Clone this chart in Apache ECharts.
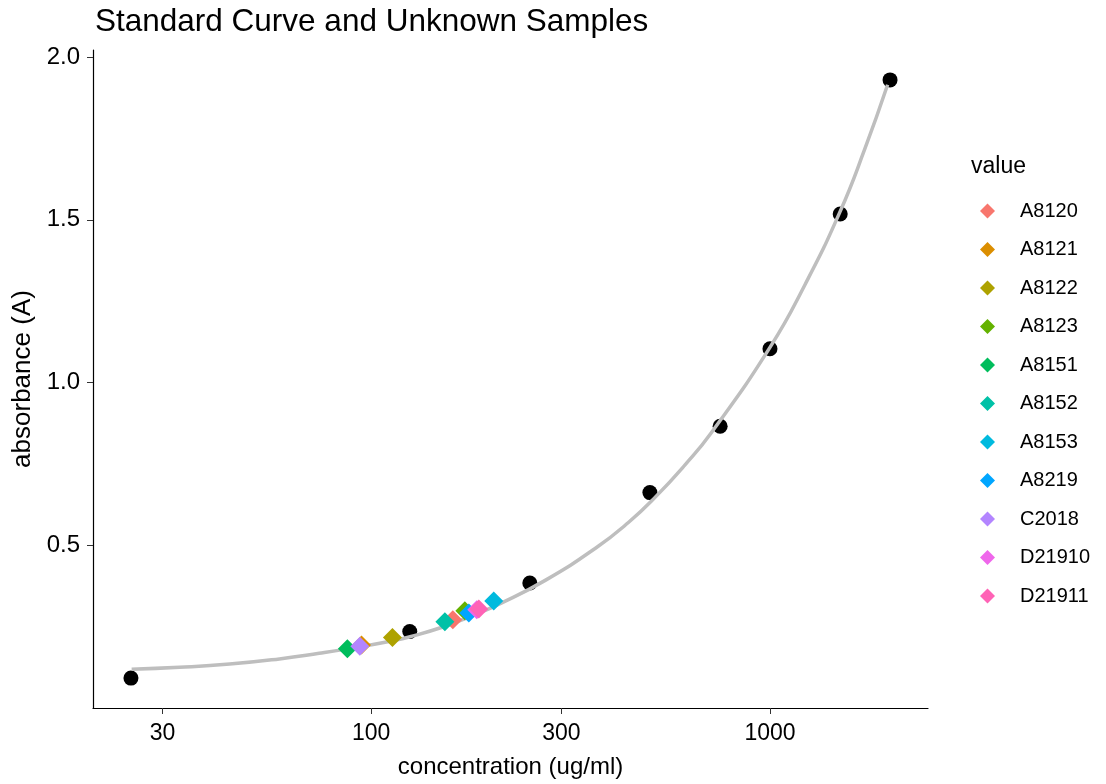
<!DOCTYPE html>
<html>
<head>
<meta charset="utf-8">
<script src="https://cdn.jsdelivr.net/npm/echarts@6/dist/echarts.min.js"></script>
<style>
html,body{margin:0;padding:0;background:#fff;}
#chart{width:1106px;height:784px;}
</style>
</head>
<body>
<div id="chart"></div>
<script>
// Standards (black points)
const stdConc = [25, 125, 250, 500, 750, 1000, 1500, 2000];
const stdAbs  = [0.092, 0.235, 0.384, 0.662, 0.866, 1.104, 1.518, 1.930];

// Fitted curve
const curveConc = [25.1, 33.1, 44.2, 58.9, 74.1, 86.6, 113.5, 125.2, 151.4, 175.8, 212.6, 273.9, 365.2, 441.6, 515.8, 613.2, 712, 1000, 1223, 1496, 1728, 1972];
const curveAbs  = [0.119, 0.125, 0.135, 0.151, 0.168, 0.181, 0.207, 0.219, 0.249, 0.279, 0.323, 0.393, 0.491, 0.570, 0.648, 0.748, 0.845, 1.108, 1.300, 1.523, 1.717, 1.915];

// Unknown samples
const sampleNames = ['A8120','A8121','A8122','A8123','A8151','A8152','A8153','A8219','C2018','D21910','D21911'];
const sampleConc  = [160.3, 94.6, 113.1, 171.8, 87.2, 153.1, 203, 175.8, 93.7, 184, 186.2];
const sampleAbs   = [0.271, 0.194, 0.217, 0.299, 0.182, 0.265, 0.329, 0.292, 0.190, 0.302, 0.304];
const sampleColors = ['#F8766D','#DB8E00','#AEA200','#64B200','#00BD5C','#00C1A7','#00BADE','#00A6FF','#B385FF','#EF67EB','#FF63B6'];

// Axis ticks
const xTicks = [30, 100, 300, 1000];
const yTicks = [0.5, 1.0, 1.5, 2.0];

const L = Math.log10;
const FONT = '"Liberation Sans", Arial, sans-serif';

// ggplot-like 5% expansion
const lx = stdConc.map(L);
const xr = Math.max(...lx) - Math.min(...lx);
const xMin = Math.min(...lx) - 0.05 * xr, xMax = Math.max(...lx) + 0.05 * xr;
const yr = Math.max(...stdAbs) - Math.min(...stdAbs);
const yMin = Math.min(...stdAbs) - 0.05 * yr, yMax = Math.max(...stdAbs) + 0.05 * yr;

const series = [];
series.push({
  name: 'standards', type: 'scatter', symbol: 'circle', symbolSize: 15,
  itemStyle: {color: '#000', opacity: 1}, z: 2,
  data: stdConc.map((c, i) => [L(c), stdAbs[i]])
});
series.push({
  name: 'curve', type: 'line', smooth: 0.5, showSymbol: false, z: 3,
  lineStyle: {color: '#bebebe', width: 3.5},
  data: curveConc.map((c, i) => [L(c), curveAbs[i]])
});
sampleNames.forEach((n, i) => {
  series.push({
    name: n, type: 'scatter', symbol: 'diamond', symbolSize: 19, z: 4,
    itemStyle: {color: sampleColors[i], opacity: 1},
    data: [[L(sampleConc[i]), sampleAbs[i]]]
  });
});

const chart = echarts.init(document.getElementById('chart'), null, {renderer: 'canvas'});
chart.setOption({
  animation: false,
  backgroundColor: '#fff',
  title: [
    {text: 'Standard Curve and Unknown Samples', left: 90, top: 1,
     textStyle: {fontFamily: FONT, fontSize: 31.5, fontWeight: 'normal', color: '#000'}},
    {text: 'value', left: 966, top: 150,
     textStyle: {fontFamily: FONT, fontSize: 23, fontWeight: 'normal', color: '#000'}}
  ],
  grid: {left: 93, right: 178, top: 50, bottom: 72, containLabel: false},
  legend: {
    data: sampleNames, orient: 'vertical', left: 975, top: 196,
    icon: 'diamond', itemWidth: 15, itemHeight: 15, itemGap: 18.5,
    itemStyle: {opacity: 1},
    textStyle: {fontFamily: FONT, fontSize: 20, color: '#000', padding: [0, 0, 0, 20]}
  },
  xAxis: {
    type: 'value', min: xMin, max: xMax,
    name: 'concentration (ug/ml)', nameLocation: 'middle', nameGap: 47,
    nameTextStyle: {fontFamily: FONT, fontSize: 24, color: '#000'},
    axisLine: {show: true, lineStyle: {color: '#000', width: 1.2}},
    axisTick: {show: true, length: 6, lineStyle: {color: '#333'}, customValues: xTicks.map(L)},
    axisLabel: {fontFamily: FONT, fontSize: 23, color: '#000', margin: 14,
      customValues: xTicks.map(L),
      formatter: v => String(Math.round(Math.pow(10, v)))},
    splitLine: {show: false}
  },
  yAxis: {
    type: 'value', min: yMin, max: yMax,
    name: 'absorbance (A)', nameLocation: 'middle', nameGap: 56, nameRotate: 90,
    nameTextStyle: {fontFamily: FONT, fontSize: 26, color: '#000'},
    axisLine: {show: true, lineStyle: {color: '#000', width: 1.2}},
    axisTick: {show: true, length: 6, lineStyle: {color: '#333'}, customValues: yTicks},
    axisLabel: {fontFamily: FONT, fontSize: 24, color: '#000', margin: 13,
      customValues: yTicks, formatter: v => v.toFixed(1)},
    splitLine: {show: false}
  },
  series: series
});
</script>
</body>
</html>
